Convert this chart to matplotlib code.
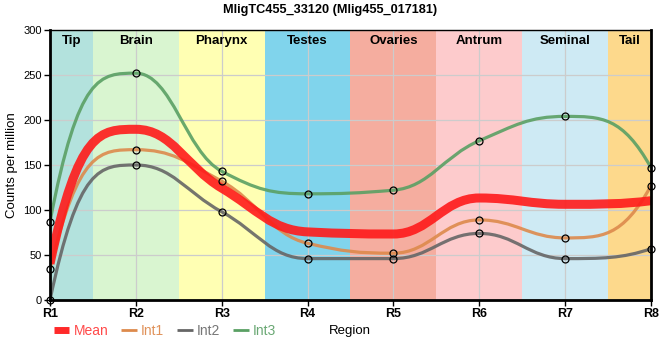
import numpy as np
import matplotlib
matplotlib.use("Agg")
import matplotlib.pyplot as plt
from matplotlib.path import Path
from matplotlib.patches import PathPatch
from matplotlib.lines import Line2D

plt.rcParams['font.family'] = ['Liberation Sans', 'DejaVu Sans']

title = "MligTC455_33120 (Mlig455_017181)"
regions = ["R1", "R2", "R3", "R4", "R5", "R6", "R7", "R8"]
tissues = ["Tip", "Brain", "Pharynx", "Testes", "Ovaries", "Antrum", "Seminal", "Tail"]
tissue_colors = ["#b3e2dd", "#d9f5d0", "#ffffb3", "#80d4ec", "#f5ad9f", "#fdcbcc", "#ceeaf4", "#fdd98c"]

int1 = [34, 167, 132, 63, 52, 89, 69, 127]
int2 = [0, 150, 98, 46, 46, 74, 46, 57]
int3 = [87, 252, 143, 118, 122, 177, 204, 147]
mean = list(np.mean([int1, int2, int3], axis=0))


def monotone_path(xs, ys, a=0.42):
    # smooth line through the points: cubic bezier segments, monotone tangents
    xs = np.asarray(xs, float)
    ys = np.asarray(ys, float)
    n = len(xs)
    h = np.diff(xs)
    s = np.diff(ys) / h
    t = np.zeros(n)
    for i in range(1, n - 1):
        p = (s[i - 1] * h[i] + s[i] * h[i - 1]) / (h[i - 1] + h[i])
        t[i] = (np.sign(s[i - 1]) + np.sign(s[i])) * min(abs(s[i - 1]), abs(s[i]), 0.5 * abs(p))
    # steep ends
    for i, j, sl in [(0, 1, s[0]), (n - 1, n - 2, s[-1])]:
        m = 3 * sl - 2 * t[j]
        if np.sign(m) != np.sign(sl):
            m = 0
        t[i] = np.sign(sl) * min(abs(m), 3 * abs(sl))
    # handle length: 1/3 at the two ends, longer inside
    k = np.full(n, a)
    k[0] = k[-1] = 1 / 3
    verts = [(xs[0], ys[0])]
    codes = [Path.MOVETO]
    for i in range(n - 1):
        d0 = h[i] * k[i]
        d1 = h[i] * k[i + 1]
        verts += [(xs[i] + d0, ys[i] + d0 * t[i]),
                  (xs[i + 1] - d1, ys[i + 1] - d1 * t[i + 1]),
                  (xs[i + 1], ys[i + 1])]
        codes += [Path.CURVE4] * 3
    return Path(verts, codes)


fig = plt.figure(figsize=(6.6, 3.6), dpi=100)
ax = fig.add_axes([50 / 660, 60 / 360, 601 / 660, 270 / 360])

x = np.arange(len(regions))
xmax = len(regions) - 1
for i, (name, col) in enumerate(zip(tissues, tissue_colors)):
    lo, hi = max(i - 0.5, 0), min(i + 0.5, xmax)
    ax.axvspan(lo, hi, color=col, lw=0, zorder=0)
    ax.text((lo + hi) / 2, 288, name, ha="center", va="center", fontsize=9.5,
            fontweight="bold", zorder=5)

series = [("Int1", int1, "#dd8a4c"), ("Int2", int2, "#666666"), ("Int3", int3, "#5aa064")]
for name, vals, col in series:
    ax.add_patch(PathPatch(monotone_path(x, vals), fc="none", ec=col, lw=2.3,
                           alpha=0.9, zorder=3))
ax.add_patch(PathPatch(monotone_path(x, mean), fc="none", ec="#ff1a1a", lw=6.5,
                       alpha=0.9, zorder=4))
for name, vals, col in series:
    ax.plot(x, vals, ls="none", marker="o", ms=5, mfc="none", mec="black",
            mew=0.9, zorder=6, clip_on=False)

ax.set_xlim(0, xmax)
ax.set_ylim(0, 300)
ax.set_xticks(x)
ax.set_xticklabels(regions, fontweight="bold", fontsize=9)
ax.set_yticks(np.arange(0, 301, 50))
ax.tick_params(axis="y", labelsize=8, length=4, width=1, pad=2)
ax.tick_params(axis="x", length=4, width=1, pad=2)
ax.grid(True, color="#cccccc", lw=0.9)
for g in ax.get_xgridlines() + ax.get_ygridlines():
    g.set_zorder(1)
for sp in ["left", "bottom", "right"]:
    ax.spines[sp].set_linewidth(2)
ax.spines["top"].set_linewidth(1)
for sp in ax.spines.values():
    sp.set_zorder(7)

ax.set_ylabel("Counts per million", fontsize=9.5, labelpad=4)
fig.text(0.5, 1 - 10 / 360, title, ha="center", va="center", fontsize=9.2, fontweight="bold")
fig.text(350 / 660, 1 - 331 / 360, "Region", ha="center", va="center", fontsize=9.5)

handles = [Line2D([], [], color="#ff2a2a", lw=5, solid_capstyle="butt"),
           Line2D([], [], color="#dd8a4c", lw=2, solid_capstyle="butt"),
           Line2D([], [], color="#666666", lw=2, solid_capstyle="butt"),
           Line2D([], [], color="#5aa064", lw=2, solid_capstyle="butt")]
labels = ["Mean", "Int1", "Int2", "Int3"]
fig.legend(handles, labels, loc="center left", bbox_to_anchor=(41 / 660, 1 - 331 / 360),
           ncol=4, frameon=False, handlelength=1.15, handletextpad=0.3,
           columnspacing=0.9, labelcolor=["#ff4a4a", "#e0925a", "#777777", "#6aa874"],
           prop={"size": 10})

fig.savefig("out.png", dpi=100)
